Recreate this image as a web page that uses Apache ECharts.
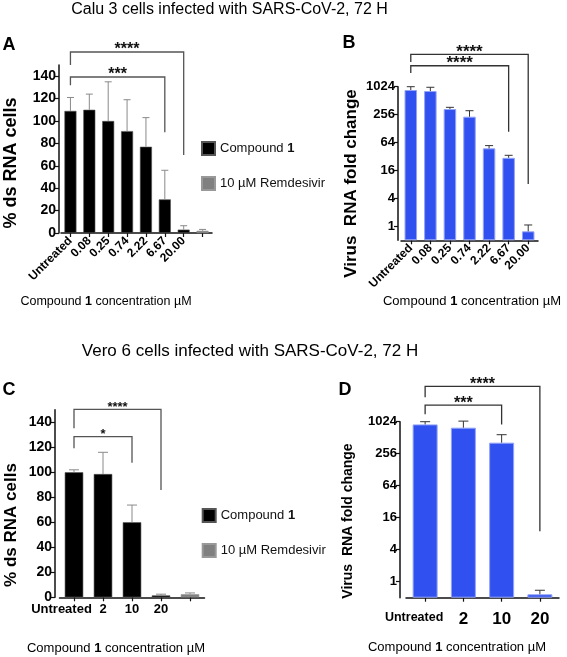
<!DOCTYPE html>
<html><head><meta charset="utf-8">
<script src="https://cdn.jsdelivr.net/npm/echarts@6/dist/echarts.min.js"></script>
<style>html,body{margin:0;padding:0;background:#fff}#c{width:567px;height:657px}</style>
</head><body><div id="c"></div>
<script>
// ---------- Panel A (Calu 3, % ds RNA cells) ----------
const catsA = ['Untreated','0.08','0.25','0.74','2.22','6.67','20.00',''];
const cmpA = [109,110,100,91,77,30,3,null];
const cmpAErr = [121,124,135,119,103,56,6.5,null];
const remA = [null,null,null,null,null,null,null,2];
const remAErr = [null,null,null,null,null,null,null,3.2];
const ticksA = [0,20,40,60,80,100,120,140];
// brackets: [fromIdx, toIdx, lineValue, leftEndValue, rightEndValue]
const bracketsA = [[0,6,161.6,150,69.6],[0,5,139.3,132,90]];
const starsA = ['****','***'];
// ---------- Panel B (Calu 3, virus RNA fold change) ----------
const catsB = ['Untreated','0.08','0.25','0.74','2.22','6.67','20.00'];
const foldB = [868,826,338,231,48,30,0.78];
const foldBErr = [1024,995,368,311,55,34,1.07];
const ticksLog = [1,4,16,64,256,1024];
const bracketsB = [[0,6,5120,3490,8.2],[0,5,2900,2020,110]];
const starsB = ['****','****'];
// ---------- Panel C (Vero 6, % ds RNA cells) ----------
const catsC = ['Untreated','2','10','20',''];
const cmpC = [100,98.6,60,1.5,null];
const cmpCErr = [102,116,73.8,2.5,null];
const remC = [null,null,null,null,2.5];
const remCErr = [null,null,null,null,3.5];
const ticksC = [0,20,40,60,80,100,120,140];
const bracketsC = [[0,3,150.4,135.2,85.8],[0,2,128.5,119.2,107.7]];
const starsC = ['****','*'];
// ---------- Panel D (Vero 6, virus RNA fold change) ----------
const catsD = ['Untreated','2','10','20'];
const foldD = [911,790,413,0.58];
const foldDErr = [1024,1050,583,0.69];
const bracketsD = [[0,3,4730,2940,8.9],[0,2,2100,1410,911]];
const starsD = ['****','***'];

const FF = '"Liberation Sans", Arial, sans-serif';
const BLUE = '#3150f0';

function errData(vals, errs){
  const out = [];
  vals.forEach((v,i)=>{ if (v!=null && errs[i]!=null) out.push([i, v, errs[i]]); });
  return out;
}
function errorRender(capHalf, color){
  return function(params, api){
    const x = api.value(0), v = api.value(1), e = api.value(2);
    const p0 = api.coord([x, v]), p1 = api.coord([x, e]);
    return {type:'group', children:[
      {type:'line', shape:{x1:p0[0],y1:p0[1],x2:p1[0],y2:p1[1]}, style:{stroke:color,lineWidth:1}},
      {type:'line', shape:{x1:p1[0]-capHalf,y1:p1[1],x2:p1[0]+capHalf,y2:p1[1]}, style:{stroke:color,lineWidth:1}}
    ]};
  };
}
function bracketRender(labels, color, fontSize){
  return function(params, api){
    const a = api.value(0), b = api.value(1), top = api.value(2), le = api.value(3), re = api.value(4);
    const pL = api.coord([a, top]), pR = api.coord([b, top]);
    const pLe = api.coord([a, le]), pRe = api.coord([b, re]);
    return {type:'group', children:[
      {type:'polyline', shape:{points:[[pLe[0],pLe[1]],[pL[0],pL[1]],[pR[0],pR[1]],[pRe[0],pRe[1]]]},
        style:{stroke:color, lineWidth:1.3, fill:null}},
      {type:'text', x:(pL[0]+pR[0])/2, y:pL[1]-2,
        style:{text:labels[params.dataIndex], font:'bold '+fontSize+'px '+FF, align:'center', verticalAlign:'middle', fill:'#111'}}
    ]};
  };
}

const axisLine = {show:true, lineStyle:{color:'#111', width:1.5}};
const tickStyle = {color:'#111', width:1.2};

function catAxis(grid, data, labelOpt){
  return {gridIndex:grid, type:'category', data:data,
    axisLine:axisLine,
    axisTick:{show:true, alignWithLabel:true, length:4, lineStyle:tickStyle},
    axisLabel:Object.assign({interval:0, color:'#000', fontFamily:FF, fontWeight:'bold'}, labelOpt),
    splitLine:{show:false}};
}
function linAxis(grid, offset, ticks, fs){
  return {gridIndex:grid, type:'value', min:0, max:150, offset:offset,
    axisLine:axisLine,
    axisTick:{show:true, length:4, lineStyle:tickStyle, customValues:ticks},
    axisLabel:{customValues:ticks, color:'#000', fontFamily:FF, fontWeight:'bold', fontSize:fs, margin:3},
    splitLine:{show:false}};
}
function logAxis(grid, offset, fs){
  return {gridIndex:grid, type:'log', logBase:2, min:0.5, max:1024, startValue:0.5, offset:offset,
    axisLine:axisLine,
    axisTick:{show:true, length:4, lineStyle:tickStyle, customValues:ticksLog},
    axisLabel:{customValues:ticksLog, color:'#000', fontFamily:FF, fontWeight:'bold', fontSize:fs, margin:3,
      formatter: v => String(Math.round(v))},
    minorTick:{show:false}, splitLine:{show:false}};
}

const legendCommon = {orient:'vertical', itemWidth:13, itemHeight:13, itemGap:20, icon:'rect', selectedMode:false, padding:0,
  data:['Compound 1','10 µM Remdesivir'],
  textStyle:{fontFamily:FF, fontSize:13, color:'#111', rich:{b:{fontFamily:FF, fontSize:13, fontWeight:'bold', color:'#111'}}},
  formatter: n => n === 'Compound 1' ? 'Compound {b|1}' : n};

function txt(x, y, text, font, extra){
  return Object.assign({type:'text', x:x, y:y, style:{text:text, font:font, fill:'#000', align:'center', verticalAlign:'middle',
    rich:{b:{font:'bold '+font.replace(/^bold /,'')}}}}, extra||{});
}
const xTitle = 'Compound {b|1} concentration µM';

const option = {
  animation:false,
  backgroundColor:'#fff',
  grid:[
    {left:61, top:65, width:151, height:168},
    {left:401, top:86.7, width:137, height:153.6},
    {left:59.5, top:409.8, width:145, height:187.5},
    {left:406, top:421.7, width:153, height:176}
  ],
  xAxis:[
    catAxis(0, catsA, {rotate:45, fontSize:12, margin:6}),
    catAxis(1, catsB, {rotate:45, fontSize:12, margin:6}),
    catAxis(2, catsC.map(c => c==='Untreated' ? {value:c, textStyle:{padding:[0,25,0,0]}} : c), {fontSize:13, margin:6}),
    catAxis(3, catsD.map(c => c==='Untreated' ? {value:c, textStyle:{fontSize:12.5, padding:[0,22,0,0]}} : {value:c, textStyle:{fontSize:17}}),
      {margin:13, verticalAlign:'middle'})
  ],
  yAxis:[
    linAxis(0, 2, ticksA, 14),
    logAxis(1, 3, 13),
    linAxis(2, 4.5, ticksC, 14),
    logAxis(3, 6, 13)
  ],
  legend:[
    Object.assign({left:201, top:141}, legendCommon),
    Object.assign({left:201.7, top:508}, legendCommon)
  ],
  series:[
    // A
    {name:'Compound 1', type:'bar', xAxisIndex:0, yAxisIndex:0, data:cmpA, barWidth:12, barGap:'-100%',
      itemStyle:{color:'#000', borderColor:'#555', borderWidth:0.6}},
    {name:'10 µM Remdesivir', type:'bar', xAxisIndex:0, yAxisIndex:0, data:remA, barWidth:12, barGap:'-100%',
      itemStyle:{color:'#808080', borderColor:'#999', borderWidth:0.6}},
    {type:'custom', xAxisIndex:0, yAxisIndex:0, data:errData(cmpA,cmpAErr).concat(errData(remA,remAErr)), clip:false, z:3,
      encode:{x:0, y:[1,2]}, renderItem:errorRender(3.5,'#8a8a8a')},
    {type:'custom', xAxisIndex:0, yAxisIndex:0, data:bracketsA, clip:false, z:4,
      encode:{x:[0,1], y:[2,3,4]}, renderItem:bracketRender(starsA,'#555',16)},
    // B
    {name:'B fold', type:'bar', xAxisIndex:1, yAxisIndex:1, data:foldB, barWidth:12.5,
      itemStyle:{color:BLUE, borderColor:'#93a3f5', borderWidth:1}},
    {type:'custom', xAxisIndex:1, yAxisIndex:1, data:errData(foldB,foldBErr), clip:false, z:3,
      encode:{x:0, y:[1,2]}, renderItem:errorRender(4,'#333')},
    {type:'custom', xAxisIndex:1, yAxisIndex:1, data:bracketsB, clip:false, z:4,
      encode:{x:[0,1], y:[2,3,4]}, renderItem:bracketRender(starsB,'#333',17)},
    // C
    {name:'Compound 1', type:'bar', xAxisIndex:2, yAxisIndex:2, data:cmpC, barWidth:18.5, barGap:'-100%',
      itemStyle:{color:'#000', borderColor:'#555', borderWidth:0.6}},
    {name:'10 µM Remdesivir', type:'bar', xAxisIndex:2, yAxisIndex:2, data:remC, barWidth:18.5, barGap:'-100%',
      itemStyle:{color:'#808080', borderColor:'#999', borderWidth:0.6}},
    {type:'custom', xAxisIndex:2, yAxisIndex:2, data:errData(cmpC,cmpCErr).concat(errData(remC,remCErr)), clip:false, z:3,
      encode:{x:0, y:[1,2]}, renderItem:errorRender(5,'#8a8a8a')},
    {type:'custom', xAxisIndex:2, yAxisIndex:2, data:bracketsC, clip:false, z:4,
      encode:{x:[0,1], y:[2,3,4]}, renderItem:bracketRender(starsC,'#555',13)},
    // D
    {name:'D fold', type:'bar', xAxisIndex:3, yAxisIndex:3, data:foldD, barWidth:25,
      itemStyle:{color:BLUE, borderColor:'#93a3f5', borderWidth:1}},
    {type:'custom', xAxisIndex:3, yAxisIndex:3, data:errData(foldD,foldDErr), clip:false, z:3,
      encode:{x:0, y:[1,2]}, renderItem:errorRender(5,'#333')},
    {type:'custom', xAxisIndex:3, yAxisIndex:3, data:bracketsD, clip:false, z:4,
      encode:{x:[0,1], y:[2,3,4]}, renderItem:bracketRender(starsD,'#333',16)}
  ],
  graphic:[
    txt(229.5, 10, 'Calu 3 cells infected with SARS-CoV-2, 72 H', '16px '+FF),
    txt(250, 351, 'Vero 6 cells infected with SARS-CoV-2, 72 H', '17px '+FF),
    txt(9, 45, 'A', 'bold 18px '+FF),
    txt(349, 43, 'B', 'bold 18px '+FF),
    txt(9, 390, 'C', 'bold 18px '+FF),
    txt(345, 390, 'D', 'bold 18px '+FF),
    txt(11, 163, '% ds RNA cells', 'bold 18px '+FF, {rotation:Math.PI/2}),
    txt(351, 183.5, 'Virus  RNA fold change', 'bold 17px '+FF, {rotation:Math.PI/2}),
    txt(11, 525, '% ds RNA cells', 'bold 17px '+FF, {rotation:Math.PI/2}),
    txt(348, 521, 'Virus  RNA fold change', 'bold 14px '+FF, {rotation:Math.PI/2}),
    txt(106, 302, xTitle, '12.5px '+FF),
    txt(472, 301, xTitle, '13px '+FF),
    txt(116, 648, xTitle, '13px '+FF),
    txt(457, 647, xTitle, '13px '+FF)
  ]
};
const chart = echarts.init(document.getElementById('c'), null, {renderer:'canvas', width:567, height:657});
chart.setOption(option);
</script>
</body></html>
